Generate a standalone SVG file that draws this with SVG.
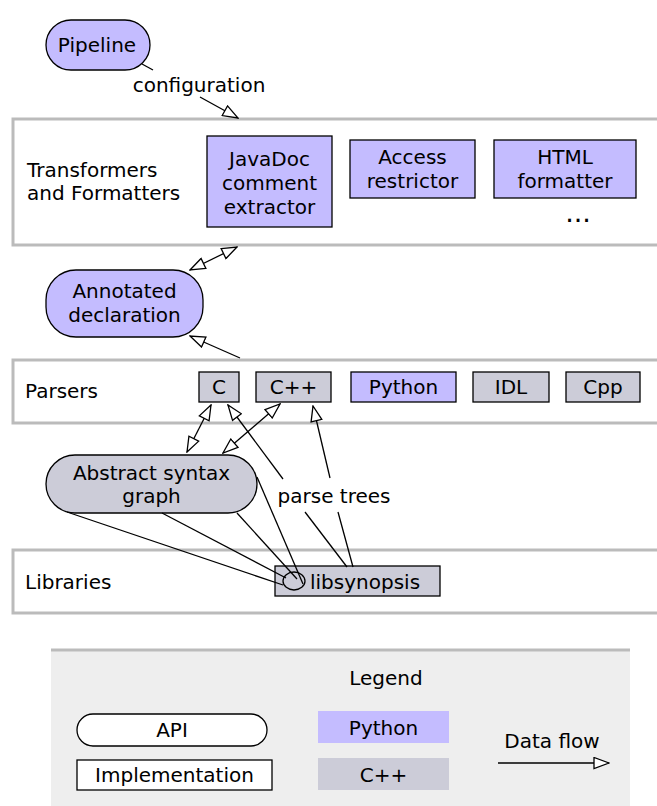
<svg xmlns="http://www.w3.org/2000/svg" width="657" height="806" viewBox="0 0 657 806">
<defs>
<style>
text{font-family:"DejaVu Sans",Verdana,sans-serif;font-size:20px;fill:#000}
.m{text-anchor:middle}
.layer{fill:#fff;stroke:#bbb;stroke-width:3}
.py{fill:#c4bcff;stroke:#000;stroke-width:1.3}
.cpp{fill:#ccccd8;stroke:#000;stroke-width:1.3}
.ln{fill:none;stroke:#000;stroke-width:1.3}
.fl{fill:none;stroke:#000;stroke-width:1.3;marker-end:url(#ah)}
.bi{fill:none;stroke:#000;stroke-width:1.3;marker-end:url(#ah);marker-start:url(#ah)}
</style>
<marker id="ah" viewBox="0 0 17 13" refX="16" refY="6.5" markerWidth="17" markerHeight="13" markerUnits="userSpaceOnUse" orient="auto-start-reverse">
<path d="M1,1 L16,6.5 L1,12 Z" fill="#fff" stroke="#000" stroke-width="1.3"/>
</marker>
</defs>
<rect width="657" height="806" fill="#fff"/>

<g id="layer-transformers">
<rect class="layer" x="13" y="119" width="660" height="126"/>
<text x="27" y="177">Transformers</text>
<text x="27" y="200">and Formatters</text>
</g>
<g id="layer-parsers">
<rect class="layer" x="13" y="360" width="660" height="63"/>
<text x="25" y="398">Parsers</text>
</g>
<g id="layer-libraries">
<rect class="layer" x="13" y="550" width="660" height="63"/>
<text x="25" y="589">Libraries</text>
</g>

<g id="pipeline">
<rect class="py" x="46" y="20" width="104" height="50" rx="25"/>
<text class="m" x="97" y="52">Pipeline</text>
</g>
<g id="javadoc">
<rect class="py" x="207" y="136" width="125" height="91"/>
<text class="m" x="269.5" y="166">JavaDoc</text>
<text class="m" x="269.5" y="190">comment</text>
<text class="m" x="269.5" y="214">extractor</text>
</g>
<g id="access">
<rect class="py" x="350" y="140" width="125" height="58"/>
<text class="m" x="412.5" y="164">Access</text>
<text class="m" x="412.5" y="188">restrictor</text>
</g>
<g id="html">
<rect class="py" x="494" y="140" width="142" height="58"/>
<text class="m" x="565" y="164">HTML</text>
<text class="m" x="565" y="188">formatter</text>
</g>
<g id="more">
<text class="m" x="578" y="222" style="font-size:27px">...</text>
</g>
<g id="annotated">
<rect class="py" x="46" y="270" width="157" height="67" rx="30"/>
<text class="m" x="124.5" y="298">Annotated</text>
<text class="m" x="124.5" y="322">declaration</text>
</g>
<g id="p-c">
<rect class="cpp" x="199" y="372" width="40" height="30"/>
<text class="m" x="219" y="394">C</text>
</g>
<g id="p-cxx">
<rect class="cpp" x="256" y="372" width="75" height="30"/>
<text class="m" x="293.5" y="394">C++</text>
</g>
<g id="p-python">
<rect class="py" x="351" y="372" width="105" height="30"/>
<text class="m" x="403.5" y="394">Python</text>
</g>
<g id="p-idl">
<rect class="cpp" x="473" y="372" width="76" height="30"/>
<text class="m" x="511" y="394">IDL</text>
</g>
<g id="p-cpp">
<rect class="cpp" x="566" y="372" width="74" height="30"/>
<text class="m" x="603" y="394">Cpp</text>
</g>
<g id="asg">
<rect class="cpp" x="46" y="455" width="211" height="58" rx="29"/>
<text class="m" x="151.5" y="480">Abstract syntax</text>
<text class="m" x="151.5" y="503">graph</text>
</g>
<g id="libsynopsis">
<rect class="cpp" x="275" y="566" width="165" height="30"/>
<text x="310" y="589">libsynopsis</text>
</g>

<g id="connectors">
<path class="ln" d="M142,64 L153,70"/>
<text class="m" x="199" y="92">configuration</text>
<path class="fl" d="M200,97 L238,118"/>
<path class="bi" d="M190,270 L237,247"/>
<path class="fl" d="M240,358 L190,336"/>
<path class="bi" d="M187,452 L211,405"/>
<path class="bi" d="M223,453 L280,404"/>
<path class="fl" d="M283,479 L228,405"/>
<path class="fl" d="M330,478 L313,406"/>
<text class="m" x="334" y="503">parse trees</text>
<path class="ln" d="M347,567 L305,512"/>
<path class="ln" d="M353,567 L338,512"/>
<path class="ln" d="M67,512 L283,585"/>
<path class="ln" d="M162,513 L286,578"/>
<path class="ln" d="M237,513 L297,579"/>
<path class="ln" d="M257,477 L303,584"/>
<ellipse cx="294" cy="581" rx="11" ry="9" fill="none" stroke="#000" stroke-width="1.3"/>
</g>

<g id="legend">
<rect x="51" y="650" width="579" height="160" fill="#eee"/>
<path d="M51,650 L630,650" stroke="#bbb" stroke-width="3"/>
<text class="m" x="386" y="685">Legend</text>
<g id="legend-api">
<rect x="77" y="714" width="190" height="32" rx="16" fill="#fff" stroke="#000" stroke-width="1.3"/>
<text class="m" x="172" y="737">API</text>
</g>
<g id="legend-impl">
<rect x="77" y="760" width="195" height="30" fill="#fff" stroke="#000" stroke-width="1.3"/>
<text class="m" x="174.5" y="782">Implementation</text>
</g>
<g id="legend-python">
<rect x="318" y="711" width="131" height="32" fill="#c4bcff"/>
<text class="m" x="383.5" y="735">Python</text>
</g>
<g id="legend-cxx">
<rect x="318" y="758" width="131" height="32" fill="#ccccd8"/>
<text class="m" x="383.5" y="782">C++</text>
</g>
<g id="legend-flow">
<text class="m" x="552" y="748">Data flow</text>
<path class="fl" d="M498,763 L609,763"/>
</g>
</g>
</svg>
